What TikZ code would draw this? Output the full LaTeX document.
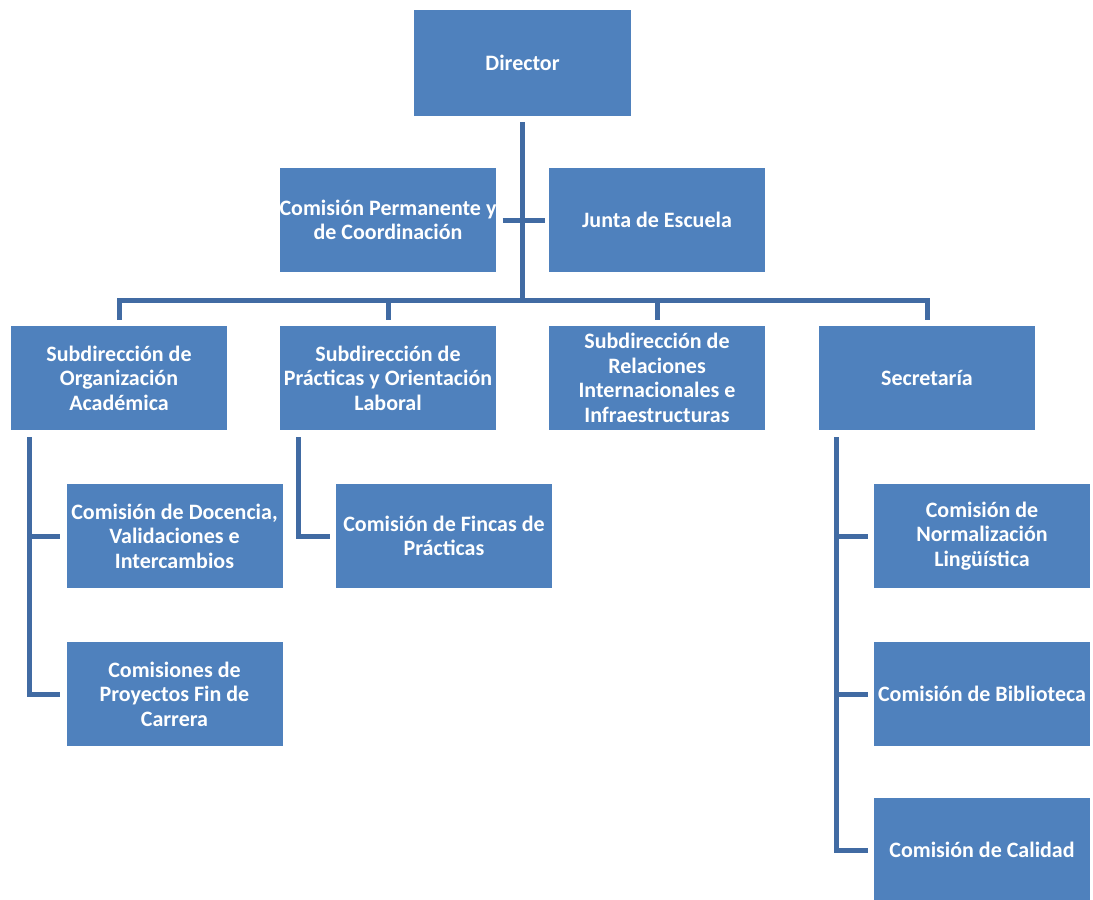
\documentclass[tikz,border=0pt]{standalone}
\usepackage{fontspec}
\setmainfont{Carlito}
\definecolor{boxblue}{RGB}{79,129,189}
\definecolor{lineblue}{RGB}{65,107,163}
\begin{document}
\begin{tikzpicture}[x=1pt,y=-1pt,
  orgbox/.style={rectangle,fill=boxblue,minimum width=216pt,minimum height=104pt,inner sep=0pt,
    text=white,align=center,font=\bfseries\fontsize{22}{24.5}\selectfont},
  conn/.style={draw=lineblue,line width=5pt,line cap=butt,line join=miter}]
\useasboundingbox (0,0) rectangle (1093,900);
\clip (0,0) rectangle (1093,900);
\fill[white] (0,0) rectangle (1093,900);
\node[orgbox,minimum width=217pt,minimum height=106pt] (dir) at (522.5,63) {Director};
\node[orgbox] (perm) at (388,220) {Comisión Permanente y\\de Coordinación};
\node[orgbox] (junta) at (657,220) {Junta de Escuela};
\node[orgbox] (org) at (119,378) {Subdirección de\\Organización\\Académica};
\node[orgbox] (prac) at (388,378) {Subdirección de\\Prácticas y Orientación\\Laboral};
\node[orgbox] (rel) at (657,378) {Subdirección de\\Relaciones\\Internacionales e\\Infraestructuras};
\node[orgbox] (sec) at (927,378) {Secretaría};
\node[orgbox] (doc) at (174.5,536) {Comisión de Docencia,\\Validaciones e\\Intercambios};
\node[orgbox] (pfc) at (174.5,694) {Comisiones de\\Proyectos Fin de\\Carrera};
\node[orgbox] (fin) at (444,536) {Comisión de Fincas de\\Prácticas};
\node[orgbox] (norm) at (982,536) {Comisión de\\Normalización\\Lingüística};
\node[orgbox] (bib) at (982,694) {Comisión de Biblioteca};
\node[orgbox] (cal) at (982,850) {Comisión de Calidad};
\coordinate (bus) at (522.5,300);
% director trunk
\draw[conn] ([yshift=-6pt]dir.south) -- (dir.south |- bus);
\draw[conn] ([xshift=6pt]perm.east) -- ([xshift=-4pt]junta.west);
% bus
\draw[conn] ([yshift=6pt]org.north) -- (org.north |- bus) -- (sec.north |- bus) -- ([yshift=6pt]sec.north);
\draw[conn] ([yshift=6pt]prac.north) -- (prac.north |- bus);
\draw[conn] ([yshift=6pt]rel.north) -- (rel.north |- bus);
% children of org
\coordinate (ot) at ([xshift=19pt,yshift=-7pt]org.south west);
\draw[conn] (ot) |- ([xshift=-6pt]pfc.west);
\draw[conn] (ot |- doc.west) -- ([xshift=-6pt]doc.west);
% children of prac
\coordinate (pt) at ([xshift=19pt,yshift=-7pt]prac.south west);
\draw[conn] (pt) |- ([xshift=-6pt]fin.west);
% children of sec
\coordinate (st) at ([xshift=18pt,yshift=-7pt]sec.south west);
\draw[conn] (st) |- ([xshift=-6pt]cal.west);
\draw[conn] (st |- norm.west) -- ([xshift=-6pt]norm.west);
\draw[conn] (st |- bib.west) -- ([xshift=-6pt]bib.west);
\end{tikzpicture}
\end{document}
